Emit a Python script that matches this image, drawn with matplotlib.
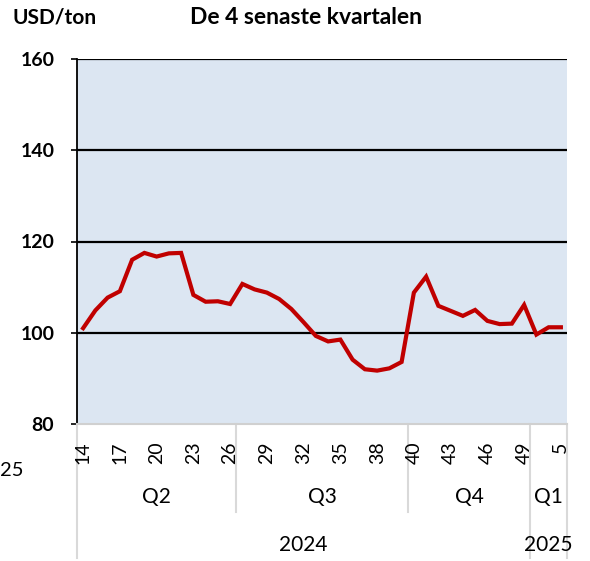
import matplotlib
matplotlib.use("Agg")
import matplotlib.pyplot as plt
import matplotlib.transforms as mtransforms

# ---- data ----
weeks = ["14", "15", "16", "17", "18", "19", "20", "21", "22", "23", "24", "25", "26",
         "27", "28", "29", "30", "31", "32", "33", "34", "35", "36", "37", "38", "39", "39",
         "40", "41", "42", "43", "44", "45", "46", "47", "48", "49",
         "3", "4", "5"]
values = [101.0, 104.9, 107.7, 109.1, 116.0, 117.5, 116.7, 117.4, 117.5, 108.3, 106.8, 106.9, 106.3,
          110.7, 109.5, 108.8, 107.4, 105.2, 102.3, 99.3, 98.1, 98.5, 94.1, 92.0, 91.7, 92.2, 93.6,
          108.8, 112.3, 105.9, 104.8, 103.7, 105.0, 102.6, 101.9, 102.0, 106.1,
          99.6, 101.2, 101.2]
quarters = ["Q2", "Q3", "Q4", "Q1"]
quarter_sizes = [13, 14, 10, 3]
years = ["2024", "2025"]
year_sizes = [37, 3]
yticks = [80, 100, 120, 140, 160]
title = "De 4 senaste kvartalen"
unit = "USD/ton"

plt.rcParams['font.family'] = ['Lato', 'DejaVu Sans']

W, H = 590, 561
fig = plt.figure(figsize=(W / 100, H / 100), dpi=100)
L, R, T, B = 77, 567, 59, 424
ax = fig.add_axes([L / W, 1 - B / H, (R - L) / W, (B - T) / H])
ax.set_facecolor("#DCE6F2")

x = list(range(len(values)))
ax.plot(x, values, color="#C00000", lw=3.0, solid_joinstyle="miter", zorder=3)

ax.set_xlim(-0.5, len(values) - 0.5)
ax.set_ylim(yticks[0], yticks[-1])
ax.set_yticks(yticks)
ax.set_yticklabels([str(v) for v in yticks], fontsize=14, fontweight="bold")
for v in yticks[1:]:
    ax.axhline(v, color="black", lw=1.6, zorder=2)

for s in ["top", "right"]:
    ax.spines[s].set_visible(False)
ax.spines["left"].set_color("black")
ax.spines["left"].set_linewidth(1.3)
ax.spines["bottom"].set_color("#D0D0D0")
ax.spines["bottom"].set_linewidth(1.5)
ax.tick_params(axis="y", length=4.3, width=1.2, color="black", pad=12)

tick_idx = list(range(0, len(weeks), 3))
ax.set_xticks(tick_idx)
ax.set_xticklabels([weeks[i] for i in tick_idx], rotation=90, fontsize=14)
ax.tick_params(axis="x", length=0, pad=12.5)

trans = mtransforms.blended_transform_factory(ax.transData, ax.transAxes)
ah = B - T
def ay(py):
    return (B - py) / ah

sep_col = "#D9D9D9"
bounds = [-0.5]
pos = -0.5
for n in quarter_sizes:
    pos += n
    bounds.append(pos)
year_bounds = [-0.5]
p = -0.5
for n in year_sizes:
    p += n
    year_bounds.append(p)
for b in bounds:
    low = 558 if b in year_bounds else 512
    ax.plot([b, b], [0, ay(low)], color=sep_col, lw=1.5, transform=trans, clip_on=False, zorder=1)

for q, a, b in zip(quarters, bounds[:-1], bounds[1:]):
    ax.text((a + b) / 2, ay(497), q, transform=trans, ha="center", va="center", fontsize=15)
for yv, a, b in zip(years, year_bounds[:-1], year_bounds[1:]):
    ax.text((a + b) / 2, ay(545), yv, transform=trans, ha="center", va="center", fontsize=15)

fig.text(12 / W, 1 - 470 / H, "25", ha="center", va="center", fontsize=14.5)
fig.text(13 / W, 1 - 18 / H, unit, ha="left", va="center", fontsize=15, fontweight="bold")
fig.text(306 / W, 1 - 17 / H, title, ha="center", va="center", fontsize=16.5, fontweight="bold")

fig.savefig("out.png", dpi=100)
